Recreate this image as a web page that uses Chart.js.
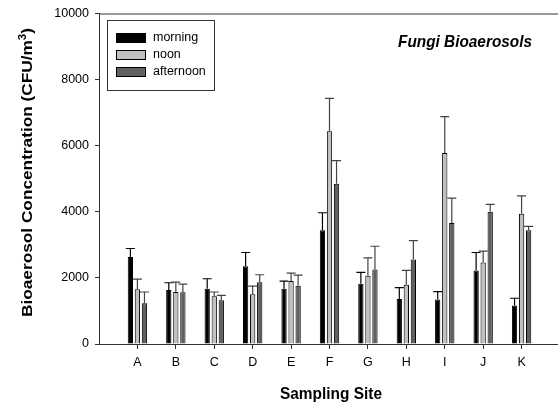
<!DOCTYPE html>
<html>
<head>
<meta charset="utf-8">
<script src="https://cdn.jsdelivr.net/npm/chart.js@4/dist/chart.umd.min.js"></script>
<style>
html,body{margin:0;padding:0;background:#fff;overflow:hidden;width:558px;height:403px;}
canvas{display:block;}
</style>
</head>
<body>
<canvas id="c" width="566" height="403"></canvas>
<script>
const sites = ['A','B','C','D','E','F','G','H','I','J','K'];
const morning   = [2636, 1634, 1674, 2356, 1674, 3440, 1824, 1363, 1343, 2227, 1163];
const noon      = [1655, 1574, 1444, 1505, 1905, 6440, 2065, 1794, 5778, 2468, 3942];
const afternoon = [1234, 1564, 1323, 1865, 1764, 4845, 2257, 2558, 3660, 4002, 3440];
const morningErr   = [253, 220, 301, 413, 231, 532, 342, 341, 240, 542, 221];
const noonErr      = [310, 301, 130, 249, 241, 993, 541, 433, 1102, 340, 542];
const afternoonErr = [340, 250, 151, 230, 321, 701, 701, 572, 752, 220, 120];
const yTicks = [0, 2000, 4000, 6000, 8000, 10000];
const seriesNames = ['morning', 'noon', 'afternoon'];
const seriesColors = ['#000000', '#c0c0c0', '#606060'];
const errColors = ['#000000', '#444444', '#444444'];

const FONT = '"Liberation Sans", Arial, sans-serif';
const pad = a => [null, ...a, null];
const labels = ['', ...sites, ''];
const errs = [morningErr, noonErr, afternoonErr];

const errorBars = {
  id: 'errorBars',
  afterDatasetsDraw(chart) {
    const ctx = chart.ctx, y = chart.scales.y;
    chart.data.datasets.forEach((ds, di) => {
      const meta = chart.getDatasetMeta(di);
      meta.data.forEach((bar, i) => {
        const v = ds.data[i];
        if (v == null) return;
        const e = errs[di][i - 1];
        const x = bar.x;
        const yTop = y.getPixelForValue(v);
        const yErr = y.getPixelForValue(v + e);
        ctx.save();
        ctx.strokeStyle = errColors[di];
        ctx.lineWidth = 1.2;
        ctx.beginPath();
        ctx.moveTo(x, yTop);
        ctx.lineTo(x, yErr);
        ctx.moveTo(x - 4.5, yErr);
        ctx.lineTo(x + 4.5, yErr);
        ctx.stroke();
        ctx.restore();
      });
    });
  }
};

const decorations = {
  id: 'decorations',
  afterDraw(chart) {
    const ctx = chart.ctx, a = chart.chartArea;
    ctx.save();
    // top frame line
    ctx.strokeStyle = '#333';
    ctx.lineWidth = 1;
    ctx.beginPath();
    ctx.moveTo(a.left, a.top + 0.5);
    ctx.lineTo(a.right, a.top + 0.5);
    ctx.stroke();
    // legend box
    ctx.strokeRect(107.5, 20.5, 107, 70);
    const rows = [38, 55, 72];
    ctx.font = '12.5px ' + FONT;
    ctx.textBaseline = 'middle';
    ctx.textAlign = 'left';
    seriesNames.forEach((n, i) => {
      ctx.fillStyle = seriesColors[i];
      ctx.fillRect(116, rows[i] - 5, 30, 10);
      ctx.strokeStyle = '#000';
      ctx.strokeRect(116.5, rows[i] - 4.5, 29, 9);
      ctx.fillStyle = '#000';
      ctx.fillText(n, 153, rows[i]);
    });
    ctx.textBaseline = 'alphabetic';
    // inset title
    ctx.save();
    ctx.font = 'italic bold 15px ' + FONT;
    let w = ctx.measureText('Fungi Bioaerosols').width;
    ctx.translate(398, 47);
    ctx.scale(134 / w, 1.08);
    ctx.textAlign = 'left';
    ctx.fillText('Fungi Bioaerosols', 0, 0);
    ctx.restore();
    // x title
    ctx.save();
    ctx.font = 'bold 15px ' + FONT;
    w = ctx.measureText('Sampling Site').width;
    ctx.translate(331, 399);
    ctx.scale(102 / w, 1.1);
    ctx.textAlign = 'center';
    ctx.fillText('Sampling Site', 0, 0);
    ctx.restore();
    // y title with superscript
    ctx.save();
    ctx.translate(32, 172.5);
    ctx.rotate(-Math.PI / 2);
    const main = 'Bioaerosol Concentration (CFU/m';
    ctx.font = 'bold 15px ' + FONT;
    const w1 = ctx.measureText(main).width;
    ctx.font = 'bold 10px ' + FONT;
    const w2 = ctx.measureText('3').width;
    ctx.font = 'bold 15px ' + FONT;
    const w3 = ctx.measureText(')').width;
    const total = w1 + w2 + w3;
    ctx.scale(289 / total, 1);
    const x0 = -total / 2;
    ctx.textAlign = 'left';
    ctx.fillText(main, x0, 0);
    ctx.font = 'bold 10px ' + FONT;
    ctx.fillText('3', x0 + w1, -6);
    ctx.font = 'bold 15px ' + FONT;
    ctx.fillText(')', x0 + w1 + w2, 0);
    ctx.restore();
    ctx.restore();
  }
};

new Chart(document.getElementById('c'), {
  type: 'bar',
  data: {
    labels: labels,
    datasets: [
      { label: seriesNames[0], data: pad(morning), backgroundColor: seriesColors[0], borderColor: '#000', borderWidth: 1 },
      { label: seriesNames[1], data: pad(noon), backgroundColor: seriesColors[1], borderColor: '#000', borderWidth: 1 },
      { label: seriesNames[2], data: pad(afternoon), backgroundColor: seriesColors[2], borderColor: '#000', borderWidth: 1 }
    ]
  },
  options: {
    responsive: false,
    animation: false,
    events: [],
    layout: { padding: { left: 0, right: 5, top: 12, bottom: 0 } },
    datasets: { bar: { categoryPercentage: 0.55, barPercentage: 0.75 } },
    plugins: { legend: { display: false }, tooltip: { enabled: false }, title: { display: false } },
    scales: {
      x: {
        offset: false,
        grid: {
          offset: false,
          drawOnChartArea: false,
          drawTicks: true,
          tickLength: 5,
          tickColor: c => (c.index === 0 || c.index === labels.length - 1) ? 'rgba(0,0,0,0)' : '#333'
        },
        border: { color: '#333', width: 1 },
        ticks: { color: '#000', font: { family: FONT, size: 12.5 }, padding: 6, maxRotation: 0, autoSkip: false },
        afterFit: s => { s.height = 59; }
      },
      y: {
        min: 0, max: 10000,
        afterBuildTicks: s => { s.ticks = yTicks.map(v => ({ value: v })); },
        grid: { drawOnChartArea: false, drawTicks: true, tickLength: 4, tickColor: '#333' },
        border: { color: '#333', width: 1 },
        ticks: { color: '#000', font: { family: FONT, size: 12.5 }, padding: 6, callback: v => String(v) },
        afterFit: s => { s.width = 99; }
      }
    }
  },
  plugins: [errorBars, decorations]
});
</script>
</body>
</html>
